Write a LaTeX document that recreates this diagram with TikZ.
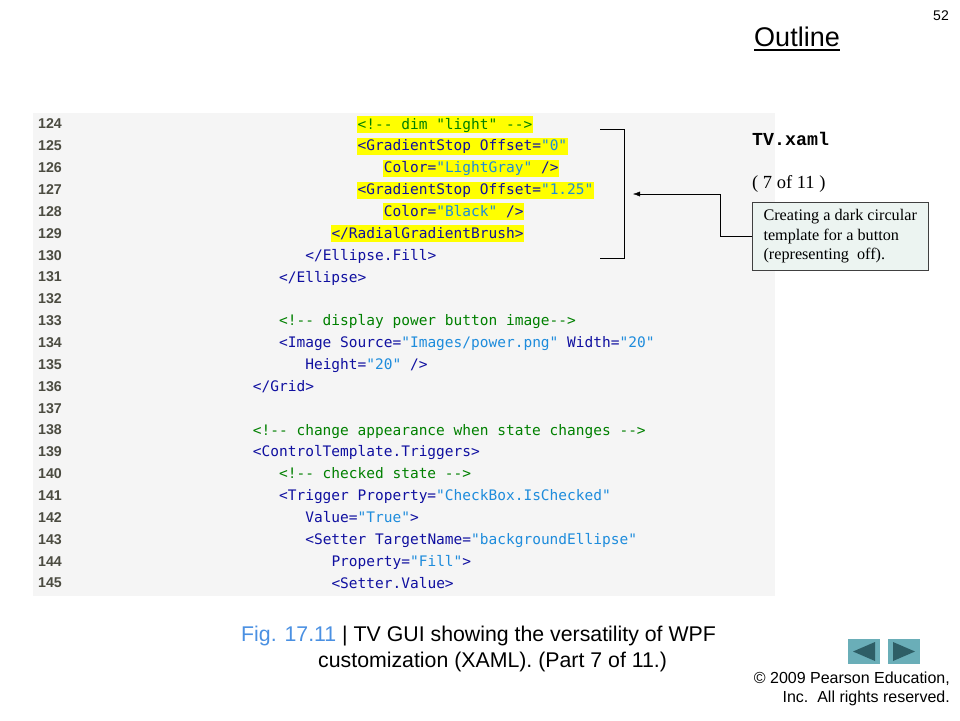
\documentclass[tikz,border=0pt]{standalone}
\usepackage{fontspec}
\setmainfont{Liberation Sans}
\setmonofont{DejaVu Sans Mono}
\newfontfamily\courfont{Liberation Mono}
\newfontfamily\timesfont{Liberation Serif}
\usetikzlibrary{calc,arrows.meta}

\definecolor{codebg}{RGB}{245,245,245}
\definecolor{tagblue}{RGB}{16,16,160}
\definecolor{valblue}{RGB}{30,140,220}
\definecolor{cmgreen}{RGB}{0,128,0}
\definecolor{hlyellow}{RGB}{255,255,0}
\definecolor{numgray}{RGB}{75,75,65}
\definecolor{notebg}{RGB}{236,244,241}
\definecolor{figblue}{RGB}{74,144,226}
\definecolor{navteal}{RGB}{106,174,184}
\definecolor{navdark}{RGB}{46,94,102}

\newcommand{\xtag}[1]{\textcolor{tagblue}{#1}}
\newcommand{\xval}[1]{\textcolor{valblue}{#1}}
\newcommand{\xcom}[1]{\textcolor{cmgreen}{#1}}

\tikzset{
  code/.style={anchor=base west, inner xsep=0.5pt, inner ysep=0pt, text height=13pt, text depth=4pt, font=\fontsize{14.5}{16}\ttfamily},
  hl/.style={code, fill=hlyellow},
  lnum/.style={anchor=west, inner sep=0pt, text=numgray, font=\fontsize{14.2}{16}\selectfont\bfseries},
}

\begin{document}
\begin{tikzpicture}[x=1pt, y=-1pt]
      \useasboundingbox (0,0) rectangle (960,720);
      \fill[codebg] (33,113) rectangle (775,596);
      % line numbers
      \foreach \n in {124,...,145}
        \node[lnum] (n\n) at (38, {124+21.86*(\n-124)}) {\n};
      % code lines
      \node[hl] (c124) at (357, 129) {\xcom{<!-- dim "light" -->}};
      \node[hl] (c125) at (357, 150.9) {\xtag{<GradientStop Offset=}\xval{"0"}};
      \node[hl] (c126) at (383.2, 172.7) {\xtag{Color=}\xval{"LightGray"} \xtag{/>}};
      \node[hl] (c127) at (357, 194.6) {\xtag{<GradientStop Offset=}\xval{"1.25"}};
      \node[hl] (c128) at (383.2, 216.4) {\xtag{Color=}\xval{"Black"} \xtag{/>}};
      \node[hl] (c129) at (330.8, 238.3) {\xtag{</RadialGradientBrush>}};
      \node[code] (c130) at (304.6, 260.2) {\xtag{</Ellipse.Fill>}};
      \node[code] (c131) at (278.4, 282.0) {\xtag{</Ellipse>}};
      \node[code] (c133) at (278.4, 325.7) {\xcom{<!-- display power button image-->}};
      \node[code] (c134) at (278.4, 347.6) {\xtag{<Image Source=}\xval{"Images/power.png"} \xtag{Width=}\xval{"20"}};
      \node[code] (c135) at (304.6, 369.5) {\xtag{Height=}\xval{"20"} \xtag{/>}};
      \node[code] (c136) at (252.2, 391.3) {\xtag{</Grid>}};
      \node[code] (c138) at (252.2, 435.0) {\xcom{<!-- change appearance when state changes -->}};
      \node[code] (c139) at (252.2, 456.9) {\xtag{<ControlTemplate.Triggers>}};
      \node[code] (c140) at (278.4, 478.8) {\xcom{<!-- checked state -->}};
      \node[code] (c141) at (278.4, 500.6) {\xtag{<Trigger Property=}\xval{"CheckBox.IsChecked"}};
      \node[code] (c142) at (304.6, 522.5) {\xtag{Value=}\xval{"True"}\xtag{>}};
      \node[code] (c143) at (304.6, 544.3) {\xtag{<Setter TargetName=}\xval{"backgroundEllipse"}};
      \node[code] (c144) at (330.8, 566.2) {\xtag{Property=}\xval{"Fill"}\xtag{>}};
      \node[code] (c145) at (330.8, 588.1) {\xtag{<Setter.Value>}};
      % bracket and callout
      \draw (600,129) -- (624,129) -- (624,258) -- (600,258);
      \coordinate (brk) at (633,194);
      \node[draw=black!75, fill=notebg, anchor=north west, minimum width=176pt, minimum height=68pt,
            inner xsep=9.5pt, inner ysep=6pt, align=left, font=\timesfont\fontsize{16.2}{19.5}\selectfont] (note) at (752,202)
            {Creating a dark circular\\template for a button\\(representing\ \ off).};
      \draw[-{Latex[length=7pt,width=5pt]}] (note.west) -- ++(-32,0) |- (brk);
      % header
      \node[font=\fontsize{14}{16}\selectfont] (pagenum) at (941,16) {52};
      \node[inner sep=0pt, font=\fontsize{27}{30}\selectfont] (outline) at (797,37) {Outline};
      \draw[line width=1.4pt] ($(outline.base west)+(0,3.5)$) -- ($(outline.base east)+(0,3.5)$);
      \node[anchor=west, inner sep=0pt, font=\courfont\bfseries\fontsize{18.3}{20}\selectfont] (fname) at (752,139) {TV.xaml};
      \node[anchor=west, inner sep=0pt, font=\timesfont\fontsize{18.5}{20}\selectfont] (part) at (752,184) {( 7 of 11 )};
      % caption
      \node[anchor=west, inner sep=0pt, font=\fontsize{21.3}{24}\selectfont] (cap1) at (241,636)
            {\textcolor{figblue}{Fig. 17.11} | TV GUI showing the versatility of WPF};
      \node[anchor=west, inner sep=0pt, font=\fontsize{21.3}{24}\selectfont] (cap2) at (318,662)
            {customization (XAML). (Part 7 of 11.)};
      % navigation buttons
      \fill[navteal] (848,639) rectangle (880,664);
      \fill[navdark] (853,651.5) -- (875,642) -- (875,661) -- cycle;
      \fill[navteal] (888,639) rectangle (920,664);
      \fill[navdark] (893,642) -- (915,651.5) -- (893,661) -- cycle;
      \node[anchor=east, inner sep=0pt, font=\fontsize{16}{18}\selectfont] (copy1) at (950,679) {\textcopyright\ 2009 Pearson Education,};
      \node[anchor=east, inner sep=0pt, font=\fontsize{16}{18}\selectfont] (copy2) at (950,698) {Inc.\ \ All rights reserved.};
\end{tikzpicture}
\end{document}
